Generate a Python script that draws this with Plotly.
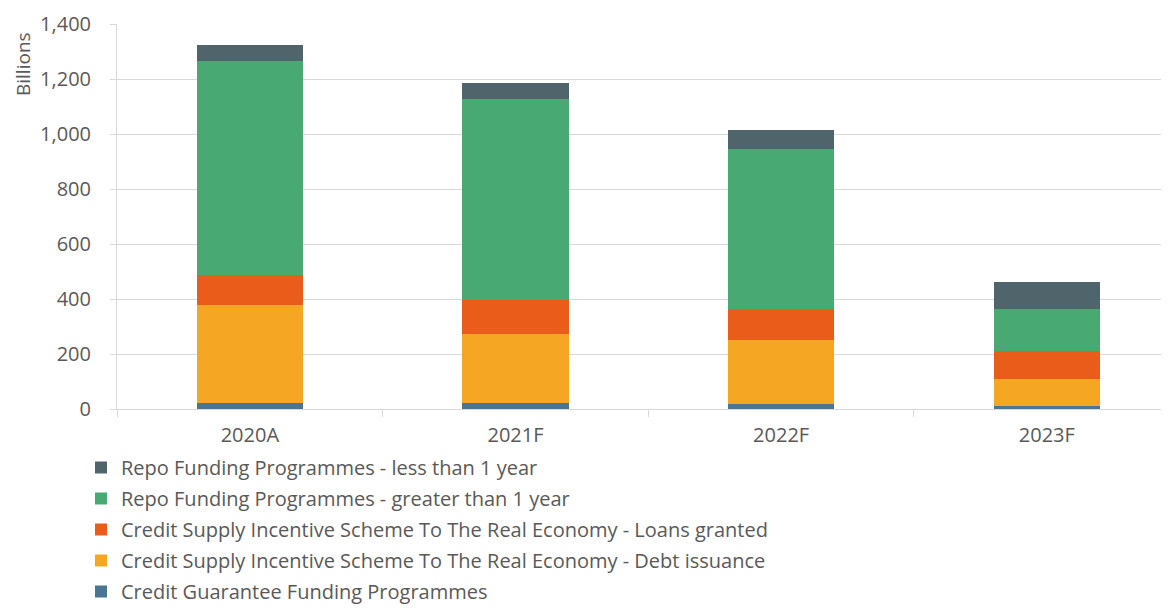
import plotly.graph_objects as go

categories = ["2020A", "2021F", "2022F", "2023F"]
credit_guarantee = [21, 21, 19, 11]
debt_issuance = [357, 251, 231, 98]
loans_granted = [108, 125, 115, 102]
repo_gt_1y = [780, 729, 579, 152]
repo_lt_1y = [58, 58, 69, 99]

series = [
    ("Credit Guarantee Funding Programmes", credit_guarantee, "#4A7593"),
    ("Credit Supply Incentive Scheme To The Real Economy - Debt issuance", debt_issuance, "#F5A623"),
    ("Credit Supply Incentive Scheme To The Real Economy - Loans granted", loans_granted, "#EA5C1A"),
    ("Repo Funding Programmes - greater than 1 year", repo_gt_1y, "#48AA72"),
    ("Repo Funding Programmes - less than 1 year", repo_lt_1y, "#4F646B"),
]

fig = go.Figure()
n = len(series)
for i, (name, vals, color) in enumerate(series):
    fig.add_trace(go.Bar(x=categories, y=vals, name=name, legendgroup=f"g{i}",
                         legendrank=n - i,
                         marker=dict(color=color, line=dict(width=0))))

font_family = "Open Sans, Noto Sans, sans-serif"
OFF = 8  # browser body margin
W, H = 1169 - OFF, 608 - OFF
L, T = 117 - OFF, 24 - OFF
BOT = 409 - OFF
B = H - BOT
PW, PH = W - L, BOT - T
fig.update_layout(
    barmode="stack",
    bargap=0.6,
    width=W, height=H,
    margin=dict(l=L, r=0, t=T, b=B, autoexpand=False),
    paper_bgcolor="white", plot_bgcolor="white",
    font=dict(family=font_family, size=20, color="#595959"),
    legend=dict(orientation="v", traceorder="grouped",
                x=(81 - OFF - L) / PW, y=(BOT - (448 - OFF)) / PH,
                xanchor="left", yanchor="top",
                font=dict(size=20, color="#595959"),
                itemwidth=30, tracegroupgap=2, bgcolor="rgba(0,0,0,0)"),
    xaxis=dict(range=[-0.5, 3.46], showgrid=False, showline=True,
               linecolor="#D9D9D9", linewidth=1,
               ticks="outside", tickson="boundaries", ticklen=7,
               tickcolor="#D9D9D9", ticklabelstandoff=8,
               tickfont=dict(size=20, color="#595959")),
    yaxis=dict(range=[0, 1400], dtick=200, tickformat=",",
               showgrid=True, gridcolor="#D9D9D9", gridwidth=1,
               showline=True, linecolor="#D9D9D9", linewidth=1,
               ticks="outside", ticklen=6, tickcolor="#D9D9D9",
               ticklabelstandoff=15,
               tickfont=dict(size=20, color="#595959"), zeroline=False),
)

fig.add_annotation(text="Billions", xref="paper", yref="paper",
                   x=(23 - OFF - L) / PW, y=(BOT - (64 - OFF)) / PH,
                   xanchor="center", yanchor="middle",
                   textangle=-90, showarrow=False,
                   font=dict(size=19, color="#595959"))

fig.write_html("out.html")
